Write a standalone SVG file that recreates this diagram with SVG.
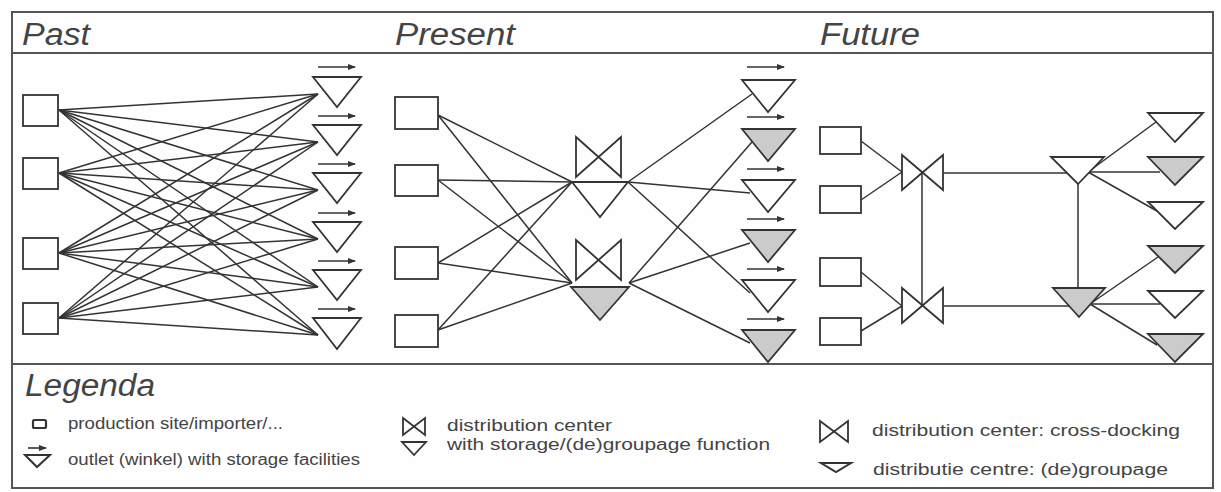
<svg xmlns="http://www.w3.org/2000/svg" width="1221" height="492" viewBox="0 0 1221 492">
<defs>
<marker id="ah" viewBox="0 0 8 6" refX="7" refY="3" markerWidth="8" markerHeight="6" markerUnits="userSpaceOnUse" orient="auto">
<path d="M0,0 L8,3 L0,6 Z" fill="#333"/>
</marker>
<style>
.frame{fill:none;stroke:#555;stroke-width:2}
.ln{stroke:#333;stroke-width:1.5;fill:none}
.box{fill:#fff;stroke:#333;stroke-width:1.8}
.tw{fill:#fff;stroke:#333;stroke-width:1.8;stroke-linejoin:miter}
.tg{fill:#cbcbcb;stroke:#333;stroke-width:1.8}
.bt{fill:none;stroke:#333;stroke-width:1.8;stroke-linejoin:miter}
.arr{stroke:#333;stroke-width:1.6;marker-end:url(#ah)}
.hd{font-family:"Liberation Sans",Arial,sans-serif;font-style:italic;font-size:31px;fill:#444}
.lg{font-family:"Liberation Sans",Arial,sans-serif;font-size:16px;fill:#444}
</style>
</defs>
<rect x="0" y="0" width="1221" height="492" fill="#fefefe"/>
<g id="frame">
<rect class="frame" x="12" y="12" width="1201" height="476"/>
<line class="frame" x1="12" y1="53" x2="1213" y2="53"/>
<line class="frame" x1="12" y1="364" x2="1213" y2="364"/>
</g>
<g id="headers">
<text class="hd" x="22" y="45" textLength="68" lengthAdjust="spacingAndGlyphs">Past</text>
<text class="hd" x="395" y="45" textLength="120" lengthAdjust="spacingAndGlyphs">Present</text>
<text class="hd" x="820" y="45" textLength="100" lengthAdjust="spacingAndGlyphs">Future</text>
</g>
<g id="connectors">
<!-- Past: every site to every outlet -->
<line class="ln" x1="59" y1="110" x2="318" y2="94"/>
<line class="ln" x1="59" y1="110" x2="318" y2="142"/>
<line class="ln" x1="59" y1="110" x2="318" y2="190"/>
<line class="ln" x1="59" y1="110" x2="318" y2="239"/>
<line class="ln" x1="59" y1="110" x2="318" y2="287"/>
<line class="ln" x1="59" y1="110" x2="318" y2="335"/>
<line class="ln" x1="59" y1="173" x2="318" y2="94"/>
<line class="ln" x1="59" y1="173" x2="318" y2="142"/>
<line class="ln" x1="59" y1="173" x2="318" y2="190"/>
<line class="ln" x1="59" y1="173" x2="318" y2="239"/>
<line class="ln" x1="59" y1="173" x2="318" y2="287"/>
<line class="ln" x1="59" y1="173" x2="318" y2="335"/>
<line class="ln" x1="59" y1="253" x2="318" y2="94"/>
<line class="ln" x1="59" y1="253" x2="318" y2="142"/>
<line class="ln" x1="59" y1="253" x2="318" y2="190"/>
<line class="ln" x1="59" y1="253" x2="318" y2="239"/>
<line class="ln" x1="59" y1="253" x2="318" y2="287"/>
<line class="ln" x1="59" y1="253" x2="318" y2="335"/>
<line class="ln" x1="59" y1="318" x2="318" y2="94"/>
<line class="ln" x1="59" y1="318" x2="318" y2="142"/>
<line class="ln" x1="59" y1="318" x2="318" y2="190"/>
<line class="ln" x1="59" y1="318" x2="318" y2="239"/>
<line class="ln" x1="59" y1="318" x2="318" y2="287"/>
<line class="ln" x1="59" y1="318" x2="318" y2="335"/>
<!-- Present: sites to DCs -->
<line class="ln" x1="438" y1="115" x2="572" y2="182"/>
<line class="ln" x1="438" y1="115" x2="572" y2="283"/>
<line class="ln" x1="438" y1="180" x2="572" y2="182"/>
<line class="ln" x1="438" y1="180" x2="572" y2="283"/>
<line class="ln" x1="438" y1="263" x2="572" y2="182"/>
<line class="ln" x1="438" y1="263" x2="572" y2="283"/>
<line class="ln" x1="438" y1="330" x2="572" y2="182"/>
<line class="ln" x1="438" y1="330" x2="572" y2="283"/>
<!-- Present: DCs to outlets -->
<line class="ln" x1="628" y1="182" x2="752" y2="94"/>
<line class="ln" x1="628" y1="182" x2="750" y2="193"/>
<line class="ln" x1="628" y1="182" x2="750" y2="293"/>
<line class="ln" x1="629" y1="283" x2="752" y2="142"/>
<line class="ln" x1="629" y1="283" x2="750" y2="243"/>
<line class="ln" x1="629" y1="283" x2="750" y2="343"/>
<!-- Future -->
<line class="ln" x1="861" y1="141" x2="902" y2="172"/>
<line class="ln" x1="861" y1="200" x2="902" y2="172"/>
<line class="ln" x1="861" y1="272" x2="902" y2="306"/>
<line class="ln" x1="861" y1="331" x2="902" y2="306"/>
<line class="ln" x1="922" y1="172" x2="922" y2="306"/>
<line class="ln" x1="943" y1="173" x2="1067" y2="173"/>
<line class="ln" x1="943" y1="306" x2="1070" y2="306"/>
<line class="ln" x1="1078" y1="184" x2="1078" y2="288"/>
<line class="ln" x1="1088" y1="172" x2="1156" y2="122"/>
<line class="ln" x1="1088" y1="172" x2="1160" y2="172"/>
<line class="ln" x1="1088" y1="172" x2="1157" y2="211"/>
<line class="ln" x1="1090" y1="304" x2="1158" y2="257"/>
<line class="ln" x1="1090" y1="304" x2="1160" y2="304"/>
<line class="ln" x1="1090" y1="304" x2="1157" y2="345"/>
</g>
<g id="past-sites">
<rect class="box" x="23" y="95" width="35" height="31"/>
<rect class="box" x="23" y="158" width="35" height="31"/>
<rect class="box" x="23" y="238" width="35" height="31"/>
<rect class="box" x="23" y="303" width="35" height="31"/>
</g>
<g id="past-outlets">
<polygon class="tw" points="313,77 361,77 337,107"/>
<polygon class="tw" points="313,125 361,125 337,155"/>
<polygon class="tw" points="313,173 361,173 337,203"/>
<polygon class="tw" points="313,222 361,222 337,252"/>
<polygon class="tw" points="313,270 361,270 337,300"/>
<polygon class="tw" points="313,318 361,318 337,349"/>
<line class="arr" x1="318" y1="67" x2="355" y2="67"/>
<line class="arr" x1="318" y1="116" x2="355" y2="116"/>
<line class="arr" x1="318" y1="164" x2="355" y2="164"/>
<line class="arr" x1="318" y1="213" x2="355" y2="213"/>
<line class="arr" x1="318" y1="261" x2="355" y2="261"/>
<line class="arr" x1="318" y1="309" x2="355" y2="309"/>
</g>
<g id="present-sites">
<rect class="box" x="395" y="97" width="43" height="32"/>
<rect class="box" x="395" y="165" width="43" height="31"/>
<rect class="box" x="395" y="247" width="43" height="32"/>
<rect class="box" x="395" y="315" width="43" height="32"/>
</g>
<g id="present-dc-upper">
<path class="bt" d="M576,137 L621,177 L621,137 L576,177 Z"/>
<polygon class="tw" points="572,182 628,182 600,217"/>
</g>
<g id="present-dc-lower">
<path class="bt" d="M576,240 L621,280 L621,240 L576,280 Z"/>
<polygon class="tg" points="571,287 629,287 600,320"/>
</g>
<g id="present-outlets">
<polygon class="tw" points="742,80 795,80 768,112"/>
<polygon class="tg" points="742,129 795,129 768,161"/>
<polygon class="tw" points="742,180 795,180 768,212"/>
<polygon class="tg" points="742,230 795,230 768,262"/>
<polygon class="tw" points="742,280 795,280 768,312"/>
<polygon class="tg" points="742,330 795,330 768,362"/>
<line class="arr" x1="747" y1="67" x2="784" y2="67"/>
<line class="arr" x1="747" y1="117" x2="784" y2="117"/>
<line class="arr" x1="747" y1="169" x2="784" y2="169"/>
<line class="arr" x1="747" y1="219" x2="784" y2="219"/>
<line class="arr" x1="747" y1="269" x2="784" y2="269"/>
<line class="arr" x1="747" y1="319" x2="784" y2="319"/>
</g>
<g id="future-sites">
<rect class="box" x="820" y="127" width="41" height="27"/>
<rect class="box" x="820" y="186" width="41" height="27"/>
<rect class="box" x="820" y="258" width="41" height="28"/>
<rect class="box" x="820" y="318" width="41" height="27"/>
</g>
<g id="future-crossdock-upper">
<path class="bt" d="M902,155 L943,190 L943,155 L902,190 Z"/>
</g>
<g id="future-crossdock-lower">
<path class="bt" d="M902,288 L943,323 L943,288 L902,323 Z"/>
</g>
<g id="future-groupage-upper">
<polygon class="tw" points="1051,157 1104,157 1078,184"/>
</g>
<g id="future-groupage-lower">
<polygon class="tg" points="1053,288 1105,288 1079,317"/>
</g>
<g id="future-outlets">
<polygon class="tw" points="1148,113 1203,113 1175,142"/>
<polygon class="tg" points="1148,157 1203,157 1175,185"/>
<polygon class="tw" points="1148,202 1203,202 1175,229"/>
<polygon class="tg" points="1148,246 1203,246 1175,273"/>
<polygon class="tw" points="1148,291 1203,291 1175,318"/>
<polygon class="tg" points="1148,334 1203,334 1175,362"/>
</g>
<g id="legend">
<text class="hd" x="25" y="396" textLength="130" lengthAdjust="spacingAndGlyphs">Legenda</text>
<rect x="33" y="420" width="13" height="8" rx="1.5" fill="none" stroke="#333" stroke-width="2.2"/>
<text class="lg" x="68" y="429" textLength="215" lengthAdjust="spacingAndGlyphs">production site/importer/...</text>
<line class="arr" x1="28" y1="448" x2="46" y2="448"/>
<polygon points="25,455 50,455 37,467" fill="#fff" stroke="#333" stroke-width="2"/>
<text class="lg" x="68" y="465" textLength="292" lengthAdjust="spacingAndGlyphs">outlet (winkel) with storage facilities</text>
<path class="bt" d="M403,418 L425,435 L425,418 L403,435 Z"/>
<polygon points="402,442 426,442 414,455" fill="#fff" stroke="#333" stroke-width="1.8"/>
<text class="lg" x="447" y="431" textLength="165" lengthAdjust="spacingAndGlyphs">distribution center</text>
<text class="lg" x="447" y="450" textLength="323" lengthAdjust="spacingAndGlyphs">with storage/(de)groupage function</text>
<path class="bt" d="M820,421 L848,442 L848,421 L820,442 Z"/>
<text class="lg" x="872" y="436" textLength="308" lengthAdjust="spacingAndGlyphs">distribution center: cross-docking</text>
<polygon points="821,463 851,463 836,472" fill="#fff" stroke="#333" stroke-width="2"/>
<text class="lg" x="873" y="475" textLength="295" lengthAdjust="spacingAndGlyphs">distributie centre: (de)groupage</text>
</g>
</svg>
